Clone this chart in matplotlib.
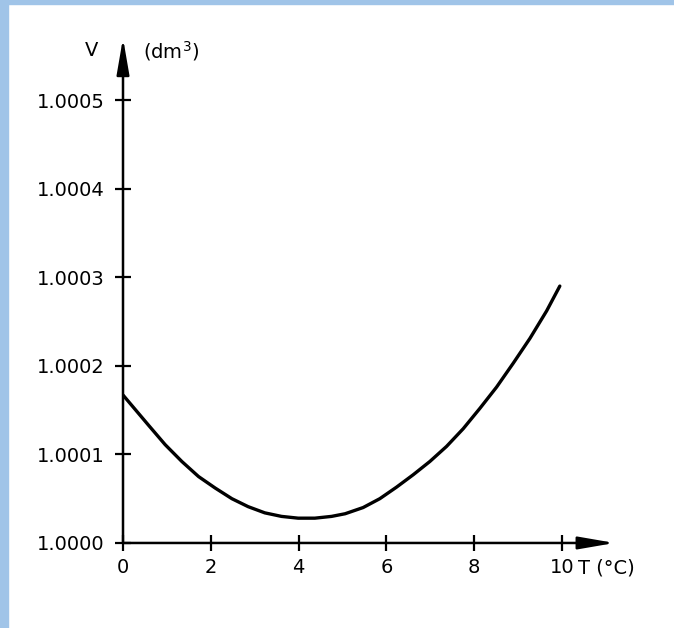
import matplotlib.pyplot as plt
from matplotlib.patches import Rectangle

# temperature (degC) and volume (dm3)
temp = [0.0, 0.58, 0.96, 1.34, 1.72, 2.10, 2.48, 2.85, 3.23, 3.61, 3.99, 4.37, 4.75, 5.06,
        5.47, 5.85, 6.23, 6.61, 6.99, 7.37, 7.75, 8.13, 8.51, 8.89, 9.27, 9.65, 9.95]
vol = [1.000167, 1.000133, 1.000111, 1.000092, 1.000075, 1.000062, 1.000050, 1.000041,
       1.000034, 1.000030, 1.000028, 1.000028, 1.000030, 1.000033, 1.000040, 1.000050,
       1.000063, 1.000077, 1.000092, 1.000109, 1.000129, 1.000152, 1.000176, 1.000203,
       1.000231, 1.000262, 1.000290]

x_ticks = [0, 2, 4, 6, 8, 10]
y_ticks = [1.0000, 1.0001, 1.0002, 1.0003, 1.0004, 1.0005]
y_labels = ['1.0000', '1.0001', '1.0002', '1.0003', '1.0004', '1.0005']

plt.rcParams['font.family'] = ['DejaVu Sans']

fig = plt.figure(figsize=(6.74, 6.28), dpi=100)
ax = fig.add_axes([0.1825, 0.1354, 0.7295, 0.804])

# light blue frame at the left and top edges
fig.patches.append(Rectangle((0, 0), 8 / 674, 1, transform=fig.transFigure,
                             color='#a0c4e8', zorder=0))
fig.patches.append(Rectangle((0, 1 - 4 / 628), 1, 4 / 628, transform=fig.transFigure,
                             color='#a0c4e8', zorder=0))

ax.plot(temp, vol, color='black', lw=2.4, solid_capstyle='round', solid_joinstyle='round')

ax.set_xlim(0, 11.2)
ax.set_ylim(1.0, 1.000570)

for s in ax.spines.values():
    s.set_visible(False)

# axes drawn as arrows
arrow = dict(arrowstyle='-|>,head_length=2.2,head_width=0.38', lw=1.8,
             color='black', shrinkA=0, shrinkB=0)
ax.annotate('', xy=(1, 0), xytext=(0, 0), xycoords='axes fraction', arrowprops=arrow)
ax.annotate('', xy=(0, 1), xytext=(0, 0), xycoords='axes fraction', arrowprops=arrow)

ax.set_xticks(x_ticks)
ax.set_xticklabels([str(t) for t in x_ticks])
ax.set_yticks(y_ticks)
ax.set_yticklabels(y_labels)
ax.tick_params(direction='inout', length=11, width=1.6, labelsize=14)
ax.tick_params(axis='x', pad=5)
ax.tick_params(axis='y', pad=8)

ax.text(-0.065, 0.975, 'V', transform=ax.transAxes, fontsize=14, ha='center', va='center')
ax.text(0.04, 0.975, '(dm$^3$)', transform=ax.transAxes, fontsize=14, ha='left', va='center')
ax.text(0.925, -0.050, 'T (°C)', transform=ax.transAxes, fontsize=14, ha='left', va='center')

fig.savefig('out.png', dpi=100)
